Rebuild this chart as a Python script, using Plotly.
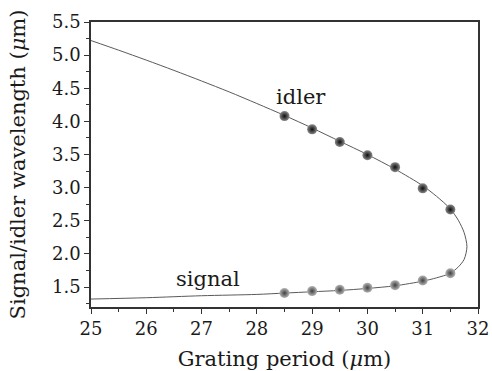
import plotly.graph_objects as go

# Theoretical tuning curve, idler branch then signal branch
curve_x = [25.0, 25.5, 26.0, 26.5, 27.0, 27.5, 28.0, 28.5, 29.0, 29.5, 30.0, 30.5, 31.0, 31.25, 31.5, 31.65, 31.75, 31.8,
           31.75, 31.65, 31.5, 31.25, 31.0, 30.5, 30.0, 29.5, 29.0, 28.5, 28.0, 27.0, 26.0, 25.0]
curve_y = [5.22, 5.075, 4.925, 4.77, 4.61, 4.445, 4.27, 4.09, 3.90, 3.70, 3.50, 3.28, 3.03, 2.87, 2.68, 2.50, 2.32, 2.11,
           1.92, 1.81, 1.71, 1.64, 1.59, 1.52, 1.48, 1.45, 1.43, 1.41, 1.39, 1.37, 1.34, 1.32]

# Measured points
period = [28.5, 29.0, 29.5, 30.0, 30.5, 31.0, 31.5]
idler = [4.08, 3.88, 3.69, 3.49, 3.31, 2.99, 2.67]
signal = [1.41, 1.44, 1.46, 1.49, 1.53, 1.60, 1.71]

FONT = "DejaVu Serif"
TXT = "#1a1a1a"

fig = go.Figure()
fig.add_trace(go.Scatter(x=curve_x, y=curve_y, mode="lines",
                         line=dict(color="#5a5a5a", width=1, shape="spline", smoothing=0.8),
                         showlegend=False, hoverinfo="skip"))
fig.add_trace(go.Scatter(x=period, y=idler, mode="markers",
                         marker=dict(size=10, color="#8a8a8a",
                                     gradient=dict(type="radial", color="#0d0d0d"),
                                     line=dict(width=0)),
                         showlegend=False))
fig.add_trace(go.Scatter(x=period, y=signal, mode="markers",
                         marker=dict(size=10, color="#b5b5b5",
                                     gradient=dict(type="radial", color="#404040"),
                                     line=dict(width=0)),
                         showlegend=False))

fig.add_annotation(x=28.8, y=4.37, text="idler", showarrow=False,
                   font=dict(family=FONT, size=21, color=TXT))
fig.add_annotation(x=27.12, y=1.62, text="signal", showarrow=False,
                   font=dict(family=FONT, size=21, color=TXT))

axis_common = dict(showline=True, linecolor="#333", linewidth=1.5, mirror=True,
                   ticks="outside", ticklen=5, tickwidth=1.2, tickcolor="#333",
                   showgrid=False, zeroline=False, automargin=False,
                   tickfont=dict(family=FONT, size=18, color=TXT))

fig.update_xaxes(range=[25, 32], dtick=1, tick0=25,
                 minor=dict(dtick=0.5, ticks="outside", ticklen=3, tickcolor="#333", tickwidth=1),
                 title=dict(text="Grating period (<i>μ</i>m)", font=dict(family=FONT, size=21, color=TXT),
                            standoff=17),
                 **axis_common)
fig.update_yaxes(range=[1.2, 5.5], dtick=0.5, tick0=1.5, tickformat=".1f",
                 minor=dict(dtick=0.25, ticks="outside", ticklen=3, tickcolor="#333", tickwidth=1),
                 title=dict(text="Signal/idler wavelength (<i>μ</i>m)", font=dict(family=FONT, size=21, color=TXT),
                            standoff=21),
                 **axis_common)

fig.update_layout(width=492, height=371, margin=dict(l=91, r=14, t=22, b=64),
                  plot_bgcolor="white", paper_bgcolor="white")

fig.write_html("out.html")
